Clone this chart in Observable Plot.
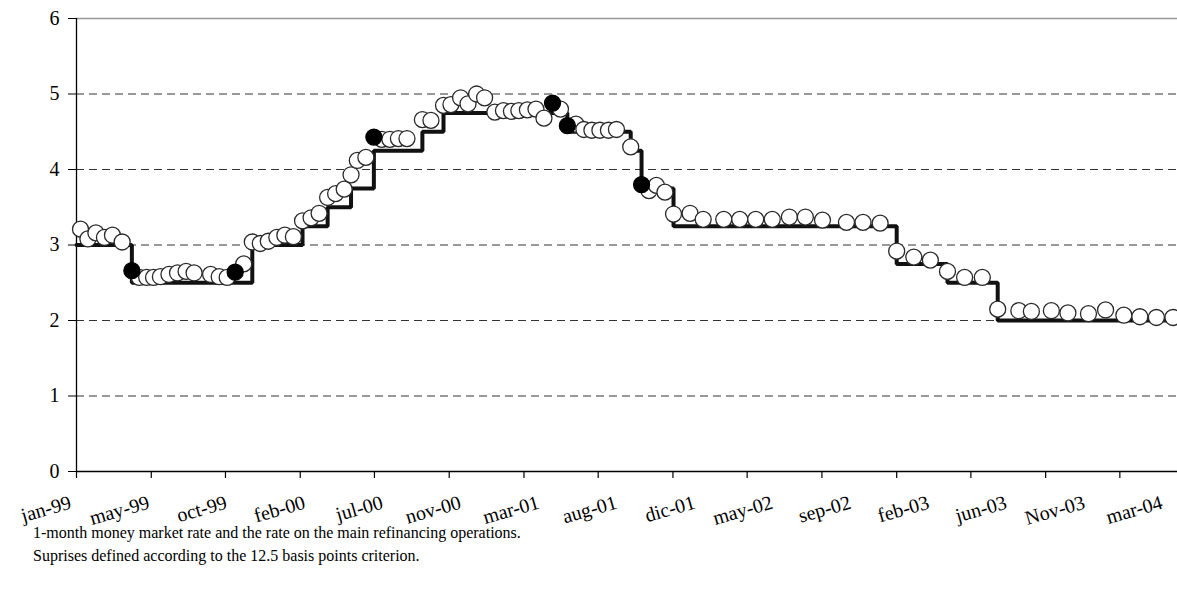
<!DOCTYPE html>
<html>
<head>
<meta charset="utf-8">
<script src="https://cdn.jsdelivr.net/npm/d3@7"></script>
<script src="https://cdn.jsdelivr.net/npm/@observablehq/plot@0.6"></script>
<style>
  html, body { margin: 0; padding: 0; background: white; }
  #chart svg { overflow: visible; }
  .caption { font-family: "Liberation Serif", "Times New Roman", serif; font-size: 16px; line-height: 23px; color: #000; padding-left: 33px; margin-top: 1px; }
</style>
</head>
<body>
<div id="chart"></div>
<div class="caption">
  <div>1-month money market rate and the rate on the main refinancing operations.</div>
  <div>Suprises defined according to the 12.5 basis points criterion.</div>
</div>
<script>
// Observation dates (Governing Council meetings) and 1-month money market rate
const obsDates = [
  "1999-01-08","1999-01-21","1999-02-04","1999-02-19","1999-03-05","1999-03-22","1999-04-08","1999-04-21",
  "1999-05-04","1999-05-16","1999-05-28","1999-06-12","1999-06-27","1999-07-12","1999-07-26","1999-08-24",
  "1999-09-08","1999-09-22","1999-10-06","1999-10-21","1999-11-05","1999-11-19","1999-12-03","1999-12-18",
  "2000-01-01","2000-01-16","2000-02-01","2000-02-16","2000-03-01","2000-03-16","2000-03-30","2000-04-14",
  "2000-04-26","2000-05-07","2000-05-22","2000-06-05","2000-06-19","2000-07-03","2000-07-18","2000-08-02",
  "2000-08-29","2000-09-13","2000-10-05","2000-10-18","2000-11-04","2000-11-17","2000-12-02","2000-12-16",
  "2001-01-03","2001-01-18","2001-02-01","2001-02-14","2001-03-01","2001-03-16","2001-03-30","2001-04-14",
  "2001-04-28","2001-05-10","2001-05-25","2001-06-08","2001-06-22","2001-07-06","2001-07-21","2001-08-04",
  "2001-08-29","2001-09-17","2001-09-30","2001-10-13","2001-10-28","2001-11-12","2001-12-11",
  "2002-01-03","2002-02-08","2002-03-08","2002-04-05","2002-05-04","2002-06-03","2002-07-01","2002-07-31",
  "2002-09-11","2002-10-10","2002-11-09","2002-12-08",
  "2003-01-07","2003-02-05","2003-03-07","2003-04-06","2003-05-07","2003-06-03","2003-07-10","2003-08-01",
  "2003-09-05","2003-10-04","2003-11-09","2003-12-09",
  "2004-01-10","2004-02-07","2004-03-07","2004-04-05"
];
const moneyMarketRate = [
  3.21,3.08,3.16,3.10,3.13,3.04,2.66,2.57,2.57,2.57,2.58,2.61,2.63,2.65,2.63,2.61,2.58,2.57,2.64,2.75,3.04,3.02,3.05,3.10,
  3.13,3.11,3.32,3.36,3.42,3.63,3.68,3.74,3.93,4.12,4.16,4.43,4.40,4.40,4.41,4.41,4.66,4.65,4.85,4.86,4.95,4.87,5.00,4.95,
  4.76,4.78,4.77,4.78,4.79,4.80,4.68,4.88,4.80,4.58,4.60,4.53,4.52,4.52,4.52,4.53,4.30,3.80,3.72,3.79,3.70,3.41,3.42,
  3.34,3.34,3.34,3.34,3.34,3.37,3.37,3.33,3.30,3.30,3.29,2.92,
  2.84,2.80,2.65,2.57,2.57,2.15,2.13,2.12,2.13,2.10,2.09,2.14,
  2.07,2.05,2.04,2.04
];
// Surprise dates (filled black markers)
const surpriseDates = ["1999-04-08","1999-10-06","2000-06-05","2001-04-14","2001-05-10","2001-09-17"];

// Main refinancing operations rate (changes)
const refiDates = ["1999-01-01","1999-04-08","1999-11-05","2000-02-01","2000-03-16","2000-04-26","2000-06-05",
  "2000-08-29","2000-10-05","2001-05-10","2001-08-29","2001-09-17","2001-11-12","2002-12-08","2003-03-07",
  "2003-06-03","2004-04-05"];
const refiRates = [3.00,2.50,3.00,3.25,3.50,3.75,4.25,4.50,4.75,4.50,4.25,3.75,3.25,2.75,2.50,2.00,2.00];

// X-axis ticks and labels
const tickDates = ["1999-01-01","1999-05-12","1999-09-19","2000-01-28","2000-06-06","2000-10-15","2001-02-23",
  "2001-07-03","2001-11-11","2002-03-21","2002-07-30","2002-12-08","2003-04-17","2003-08-26","2004-01-03"];
const tickLabels = ["jan-99","may-99","oct-99","feb-00","jul-00","nov-00","mar-01","aug-01","dic-01",
  "may-02","sep-02","feb-03","jun-03","Nov-03","mar-04"];
const yTicks = [0,1,2,3,4,5,6];
const xStart = "1999-01-01", xEnd = "2004-04-13";
// the category labels are spread slightly wider than the tick marks (as in the original spreadsheet chart)
const labelSpreadDays = 6;

const parse = d3.utcParse("%Y-%m-%d");
const surpriseSet = new Set(surpriseDates);
const obs = obsDates.map((d, i) => ({date: parse(d), rate: moneyMarketRate[i], surprise: surpriseSet.has(d)}));
const refi = refiDates.map((d, i) => ({date: parse(d), rate: refiRates[i]}));
const ticks = tickDates.map(parse);
const labels = tickLabels.map((label, i) => ({label, pos: d3.utcDay.offset(ticks[i], Math.round(i * labelSpreadDays))}));

const chart = Plot.plot({
  width: 1177,
  height: 520,
  marginLeft: 76,
  marginRight: 0,
  marginTop: 18,
  marginBottom: 49,
  style: {fontFamily: "'Liberation Serif', 'Times New Roman', serif", fontSize: "20px", background: "white", overflow: "visible", color: "black"},
  x: {type: "utc", domain: [parse(xStart), parse(xEnd)], label: null},
  y: {domain: [0, 6], label: null},
  marks: [
    Plot.ruleY(yTicks.filter(v => v > 0 && v < 6), {stroke: "#333", strokeWidth: 1, strokeDasharray: "8,5"}),
    Plot.ruleY([6], {stroke: "#999", strokeWidth: 1.5}),
    Plot.ruleY([0], {stroke: "black", strokeWidth: 1.3}),
    Plot.ruleX([parse(xStart)], {stroke: "black", strokeWidth: 1.3}),
    Plot.axisY(yTicks, {tickSize: 8, tickPadding: 9, fontSize: 20, tickFormat: d => String(d)}),
    Plot.axisX(ticks, {tickSize: 7, tickFormat: () => null, strokeWidth: 1.2}),
    Plot.text(labels, {x: "pos", text: "label", frameAnchor: "bottom", rotate: -16, textAnchor: "end",
      lineAnchor: "top", dy: 23, dx: -8, fontSize: 20}),
    Plot.line(refi, {x: "date", y: "rate", curve: "step-after", stroke: "#111", strokeWidth: 4, strokeLinejoin: "miter"}),
    Plot.dot(obs.filter(d => !d.surprise), {x: "date", y: "rate", r: 8, fill: "white", stroke: "#2a2a2a", strokeWidth: 1.3}),
    Plot.dot(obs.filter(d => d.surprise), {x: "date", y: "rate", r: 8, fill: "black", stroke: "black", strokeWidth: 1.3})
  ]
});
document.getElementById("chart").appendChild(chart);
</script>
</body>
</html>
